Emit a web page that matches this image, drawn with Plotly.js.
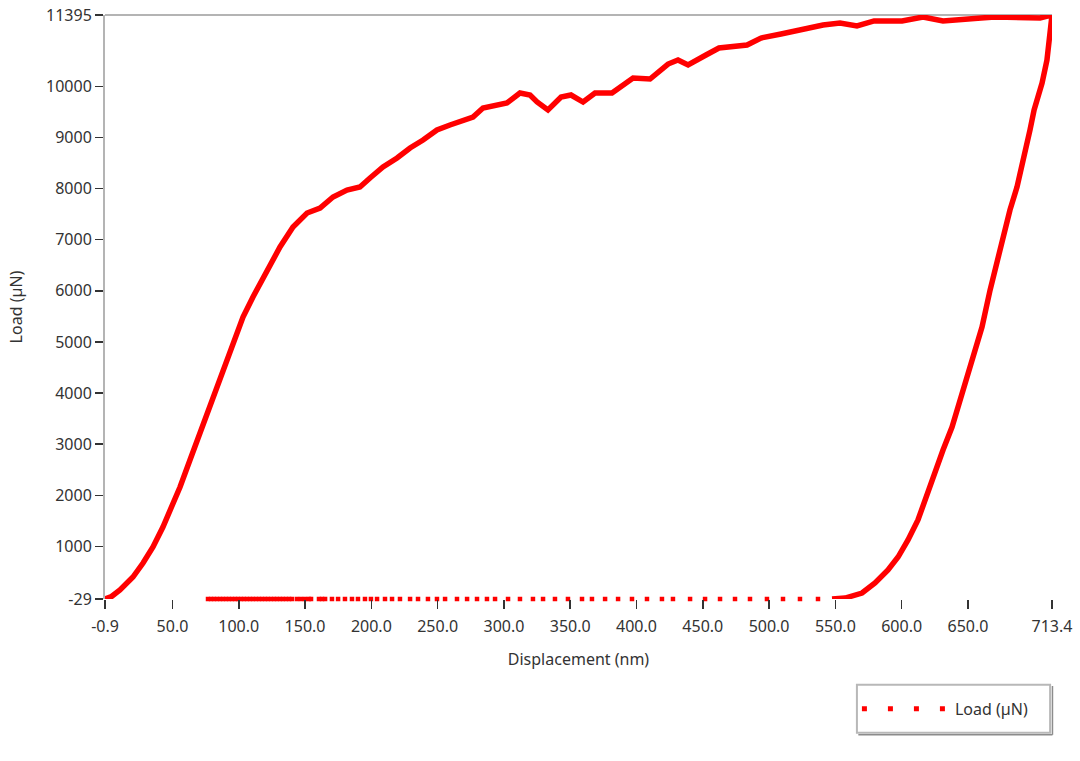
<!DOCTYPE html>
<html>
<head>
<meta charset="utf-8">
<script src="https://cdn.plot.ly/plotly-3.0.1.min.js"></script>
<style>html,body{margin:0;padding:0;background:#fff;}#chart{width:1080px;height:761px;}</style>
</head>
<body>
<div id="chart"></div>
<script>
// Loading segment (displacement nm, load µN)
const loadDisp = [-0.9, 4.0, 10.4, 20.2, 27.8, 35.3, 42.8, 49.6, 55.7, 63.2, 70.8, 78.3, 85.8, 93.4, 98.7, 103.2, 110.7, 121.3, 131.1, 140.9, 151.5, 161.3, 171.1, 181.6, 191.4, 199.0, 208.8, 219.4, 229.2, 239.0, 249.5, 259.3, 269.1, 276.7, 284.2, 294.8, 302.3, 312.1, 319.7, 325.0, 333.2, 343.1, 350.6, 359.7, 368.7, 381.5, 397.4, 410.2, 423.8, 431.3, 438.9, 452.4, 462.2, 483.4, 493.9, 509.0, 524.8, 540.7, 553.5, 566.3, 579.2, 600.3, 616.1, 631.2, 659.9, 670.4, 704.4, 713.4];
const loadForce = [-29, 20, 147, 401, 675, 988, 1379, 1771, 2162, 2690, 3218, 3727, 4255, 4842, 5174, 5487, 5879, 6407, 6857, 7248, 7522, 7620, 7835, 7972, 8030, 8206, 8422, 8598, 8793, 8950, 9145, 9243, 9341, 9400, 9576, 9634, 9674, 9869, 9830, 9693, 9537, 9791, 9830, 9693, 9869, 9869, 10163, 10143, 10436, 10515, 10417, 10613, 10749, 10808, 10945, 11023, 11121, 11199, 11239, 11180, 11278, 11278, 11356, 11278, 11336, 11356, 11336, 11395];
// Unloading segment
const unloadDisp = [713.4, 712.4, 709.6, 705.9, 699.9, 696.8, 691.5, 687.0, 681.7, 676.5, 671.9, 666.7, 660.6, 653.1, 647.8, 642.5, 638.0, 631.2, 625.2, 619.1, 612.3, 604.8, 597.3, 589.7, 579.9, 570.1, 557.3, 547.5];
const unloadForce = [11395, 11160, 10515, 10065, 9537, 9145, 8559, 8030, 7580, 7052, 6544, 6015, 5292, 4646, 4196, 3727, 3335, 2886, 2436, 1966, 1516, 1125, 792, 538, 284, 88, -10, -29];
// Tail points recorded at the baseline load
const tailDisp = [536.9, 523.3, 510.5, 498.4, 485.6, 474.3, 463.0, 451.7, 440.4, 427.5, 419.2, 407.9, 396.6, 386.1, 376.3, 366.4, 358.9, 348.3, 338.5, 329.5, 321.9, 312.1, 303.1, 293.3, 287.2, 279.7, 272.2, 264.6, 255.6, 249.5, 242.7, 235.2, 229.2, 221.6, 215.6, 210.3, 204.3, 199.7, 195.2, 189.9, 185.4, 180.1, 174.9, 170.3, 165.1, 162.8, 160.5, 154.5, 152.9, 149.9, 146.9, 143.9, 140.1, 137.9, 135.6, 133.3, 131.1, 128.8, 126.6, 124.3, 122.0, 119.8, 117.5, 115.3, 113.0, 110.7, 108.5, 106.2, 103.9, 101.7, 99.4, 97.2, 94.9, 92.6, 90.4, 88.1, 85.9, 83.6, 81.3, 79.1, 76.8];
const tailForce = tailDisp.map(() => -29);

const xTickVals = [-0.9, 50, 100, 150, 200, 250, 300, 350, 400, 450, 500, 550, 600, 650, 713.4];
const xTickText = ['-0.9', '50.0', '100.0', '150.0', '200.0', '250.0', '300.0', '350.0', '400.0', '450.0', '500.0', '550.0', '600.0', '650.0', '713.4'];
const yTickVals = [-29, 1000, 2000, 3000, 4000, 5000, 6000, 7000, 8000, 9000, 10000, 11395];
const yTickText = ['-29', '1000', '2000', '3000', '4000', '5000', '6000', '7000', '8000', '9000', '10000', '11395'];

const seriesName = 'Load (µN)';
const red = '#ff0000';
const font = 'Noto Sans, Open Sans, Arial, sans-serif';
const textColor = '#333333';

const traces = [
  {x: loadDisp.concat(unloadDisp), y: loadForce.concat(unloadForce), type: 'scatter', mode: 'lines',
   line: {color: red, width: 5.5}, showlegend: false, cliponaxis: false, hoverinfo: 'skip'},
  {x: tailDisp, y: tailForce, type: 'scatter', mode: 'markers',
   marker: {color: red, symbol: 'square', size: 4.5, line: {width: 0}}, showlegend: false, cliponaxis: false, hoverinfo: 'skip'},
  {x: [null], y: [null], type: 'scatter', mode: 'lines', name: seriesName,
   line: {color: red, width: 5, dash: '5px,21px'}, showlegend: true}
];

const layout = {
  width: 1080, height: 761,
  margin: {l: 105, r: 28, t: 15, b: 162},
  paper_bgcolor: '#ffffff', plot_bgcolor: '#ffffff',
  font: {family: font, size: 16, color: textColor},
  showlegend: true,
  xaxis: {
    range: [-0.9, 713.4], tickmode: 'array', tickvals: xTickVals, ticktext: xTickText,
    showgrid: false, zeroline: false, showline: false,
    ticks: 'outside', ticklen: 9, tickwidth: 1.5, tickcolor: textColor, ticklabelstandoff: 4,
    tickfont: {family: font, size: 16, color: textColor},
    title: {text: 'Displacement (nm)', font: {family: font, size: 16, color: textColor}, standoff: 17}
  },
  yaxis: {
    range: [-29, 11395], tickmode: 'array', tickvals: yTickVals, ticktext: yTickText,
    showgrid: false, zeroline: false, showline: true, linecolor: '#b4b4b4', linewidth: 2,
    ticks: 'outside', ticklen: 8, tickwidth: 1.5, tickcolor: textColor,
    tickfont: {family: font, size: 16, color: textColor},
    title: {text: 'Load (µN)', font: {family: font, size: 16, color: textColor}, standoff: 19}
  },
  shapes: [
    {type: 'line', xref: 'paper', yref: 'paper', x0: 0, x1: 1, y0: 1, y1: 1, line: {color: '#b4b4b4', width: 2}, layer: 'below'},
    {type: 'rect', xref: 'paper', yref: 'paper', x0: 0.794, x1: 0.998, y0: -0.147, y1: -0.229, line: {color: '#b8b8b8', width: 2}, fillcolor: 'rgba(0,0,0,0)'},
    {type: 'line', xref: 'paper', yref: 'paper', x0: 0.7955, x1: 1.0005, y0: -0.2325, y1: -0.2325, line: {color: '#8c8c8c', width: 1.5}},
    {type: 'line', xref: 'paper', yref: 'paper', x0: 1.0005, x1: 1.0005, y0: -0.149, y1: -0.2325, line: {color: '#8c8c8c', width: 1.5}}
  ],
  legend: {
    x: 0.794, y: -0.188, xanchor: 'left', yanchor: 'middle',
    borderwidth: 0, bgcolor: 'rgba(0,0,0,0)',
    font: {family: font, size: 16, color: textColor},
    itemwidth: 88
  }
};

Plotly.newPlot('chart', traces, layout, {displayModeBar: false, staticPlot: true});
</script>
</body>
</html>
